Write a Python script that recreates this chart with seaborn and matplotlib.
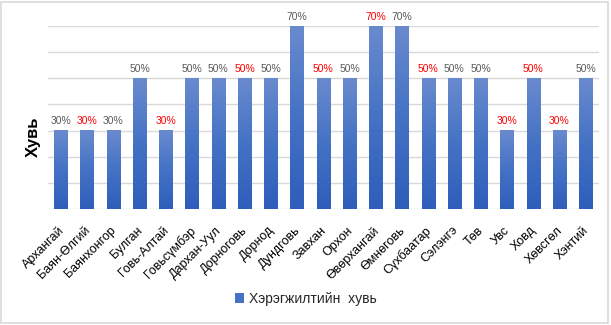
import numpy as np
import pandas as pd
import matplotlib
matplotlib.use("Agg")
import matplotlib.pyplot as plt
import matplotlib.transforms as mtransforms
from matplotlib.colors import LinearSegmentedColormap
from matplotlib.patches import Patch, Rectangle
import seaborn as sns

# Implementation rate by aimag
regions = ["Архангай", "Баян-Өлгий", "Баянхонгор", "Булган", "Говь-Алтай",
           "Говьсүмбэр", "Дархан-Уул", "Дорноговь", "Дорнод", "Дундговь",
           "Завхан", "Орхон", "Өвөрхангай", "Өмнөговь", "Сүхбаатар",
           "Сэлэнгэ", "Төв", "Увс", "Ховд", "Хөвсгөл", "Хэнтий"]
values = [30, 30, 30, 50, 30, 50, 50, 50, 50, 70, 50, 50, 70, 70, 50,
          50, 50, 30, 50, 30, 50]
highlighted = ["Баян-Өлгий", "Говь-Алтай", "Дорноговь", "Завхан", "Өвөрхангай",
               "Сүхбаатар", "Увс", "Ховд", "Хөвсгөл"]
series_name = "Хэрэгжилтийн  хувь"
y_label = "Хувь"

df = pd.DataFrame({"region": regions, "value": values})

sns.set_style("white")
plt.rcParams["font.family"] = ["Liberation Sans", "DejaVu Sans"]

fig = plt.figure(figsize=(6.11, 3.25), dpi=100)
ax = fig.add_axes([0.078, 0.357, 0.902, 0.563])

sns.barplot(data=df, x="region", y="value", color="#4472c4", width=0.5,
            saturation=1, ax=ax, zorder=3)

# vertical gradient fill for each bar
grad_cmap = LinearSegmentedColormap.from_list(
    "bar_grad", ["#2e5ebb", "#4472c4", "#6a8ace"])
grad = np.linspace(0, 1, 256).reshape(-1, 1)
for p in ax.patches:
    x0, y0 = p.get_x(), p.get_y()
    w, h = p.get_width(), p.get_height()
    ax.imshow(grad, extent=[x0, x0 + w, y0, y0 + h], origin="lower",
              aspect="auto", cmap=grad_cmap, zorder=3, interpolation="bicubic")
    p.set_visible(False)

ax.set_xlim(-0.5, len(regions) - 0.5)
ax.set_ylim(0, 70)
ax.set_yticks(np.arange(0, 71, 10))
ax.set_yticklabels([])
ax.tick_params(axis="y", length=0)
ax.grid(axis="y", color="#d9d9d9", linewidth=1, zorder=0)
ax.set_axisbelow(True)
for s in ax.spines.values():
    s.set_visible(False)

# value labels
for i, (r, v) in enumerate(zip(regions, values)):
    col = "#ff0000" if r in highlighted else "#595959"
    ax.annotate(f"{v}%", (i, v), xytext=(0, 3), textcoords="offset points",
                ha="center", va="bottom", fontsize=7.5, color=col,
                family=["Liberation Sans Narrow", "Liberation Sans"])

ax.set_xlabel("")
ax.set_ylabel("")
ax.tick_params(axis="x", length=0, pad=11, labelsize=9, labelcolor="#000000")
shift = mtransforms.ScaledTranslation(-3 / 100, 0, fig.dpi_scale_trans)
for lbl in ax.get_xticklabels():
    lbl.set_rotation(45)
    lbl.set_ha("right")
    lbl.set_rotation_mode("anchor")
    lbl.set_transform(lbl.get_transform() + shift)

fig.text(0.054, 0.578, y_label, rotation=90, ha="center", va="center",
         fontsize=12, fontweight="bold", color="#000000")

fig.legend(handles=[Patch(facecolor="#4472c4", edgecolor="none", label=series_name)],
           loc="center", bbox_to_anchor=(0.5, 0.08), frameon=False,
           fontsize=10, handlelength=0.7, handleheight=0.7, handletextpad=0.3)

fig.add_artist(Rectangle((0.002, 0.005), 0.993, 0.99, transform=fig.transFigure,
                         fill=False, edgecolor="#d9d9d9", linewidth=1.2))

fig.savefig("out.png", dpi=100)
